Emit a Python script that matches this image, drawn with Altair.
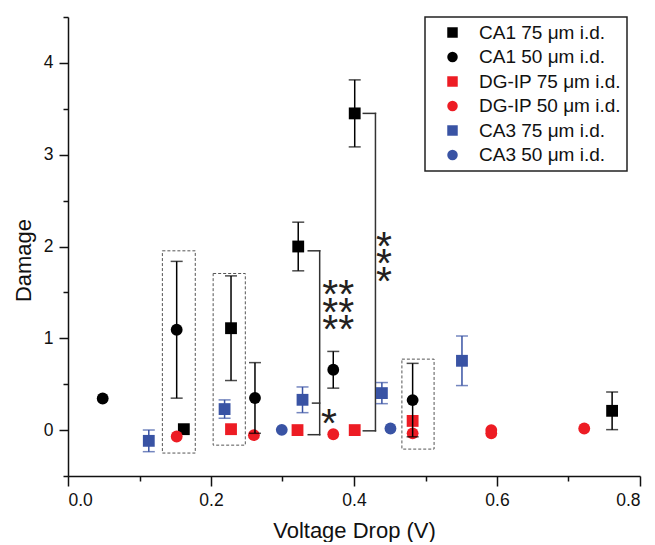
import altair as alt
import pandas as pd

FONT = "Liberation Sans"
BLACK = "#000000"
RED = "#ed1c24"
BLUE = "#3953a4"

series_names = ["CA1 75 μm i.d.", "CA1 50 μm i.d.", "DG-IP 75 μm i.d.",
                "DG-IP 50 μm i.d.", "CA3 75 μm i.d.", "CA3 50 μm i.d."]
series_colors = [BLACK, BLACK, RED, RED, BLUE, BLUE]
series_shapes = ["square", "circle", "square", "circle", "square", "circle"]

# CA1 75 um
ca1_75_x = [0.162, 0.228, 0.322, 0.401, 0.761]
ca1_75_y = [0.01, 1.11, 2.00, 3.45, 0.21]
ca1_75_err = [0.0, 0.57, 0.265, 0.365, 0.205]
# CA1 50 um
ca1_50_x = [0.0485, 0.152, 0.2615, 0.371, 0.482]
ca1_50_y = [0.344, 1.093, 0.35, 0.657, 0.327]
ca1_50_err = [0.0, 0.745, 0.385, 0.2, 0.4]
# DG-IP 75 um
dg_75_x = [0.228, 0.321, 0.401, 0.482]
dg_75_y = [0.01, 0.0, 0.0, 0.10]
dg_75_err = [0.0, 0.0, 0.0, 0.0]
# DG-IP 50 um
dg_50_x = [0.152, 0.26, 0.371, 0.482, 0.592, 0.592, 0.722]
dg_50_y = [-0.07, -0.055, -0.045, -0.035, 0.0, -0.035, 0.017]
dg_50_err = [0.0, 0.0, 0.0, 0.0, 0.0, 0.0, 0.0]
# CA3 75 um
ca3_75_x = [0.113, 0.219, 0.328, 0.439, 0.551]
ca3_75_y = [-0.117, 0.229, 0.33, 0.403, 0.755]
ca3_75_err = [0.118, 0.1, 0.14, 0.115, 0.27]
# CA3 50 um
ca3_50_x = [0.299, 0.451]
ca3_50_y = [0.003, 0.017]
ca3_50_err = [0.0, 0.0]

all_x = [ca1_75_x, ca1_50_x, dg_75_x, dg_50_x, ca3_75_x, ca3_50_x]
all_y = [ca1_75_y, ca1_50_y, dg_75_y, dg_50_y, ca3_75_y, ca3_50_y]
all_e = [ca1_75_err, ca1_50_err, dg_75_err, dg_50_err, ca3_75_err, ca3_50_err]

rows = []
for name, xs, ys, es in zip(series_names, all_x, all_y, all_e):
    for x, y, e in zip(xs, ys, es):
        rows.append({"series": name, "x": x, "y": y, "lo": y - e, "hi": y + e, "e": e})
df = pd.DataFrame(rows)
df_err = df[df["e"] > 0]

# dashed annotation boxes
box_x1 = [0.132, 0.203, 0.467]
box_x2 = [0.178, 0.248, 0.512]
box_y1 = [-0.25, -0.164, -0.207]
box_y2 = [1.953, 1.706, 0.773]
boxes = pd.DataFrame({"x": box_x1, "x2": box_x2, "y": box_y1, "y2": box_y2})

# significance brackets (segments)
seg_x1 = [0.336, 0.352, 0.336, 0.342, 0.413, 0.430, 0.413]
seg_x2 = [0.352, 0.352, 0.352, 0.352, 0.430, 0.430, 0.430]
seg_y1 = [1.953, 1.953, -0.05, 0.294, 3.45, 3.45, -0.008]
seg_y2 = [1.953, -0.05, -0.05, 0.294, 3.45, -0.008, -0.008]
segs = pd.DataFrame({"x": seg_x1, "x2": seg_x2, "y": seg_y1, "y2": seg_y2})

# asterisks (first row position of each stack)
star_x = [0.378, 0.442, 0.365]
star_y = [1.533, 2.062, 0.137]
star_t = ["**\n**\n**", "*\n*\n*", "*"]
stars = pd.DataFrame({"x": star_x, "y": star_y, "t": star_t})

x_ticks = [0.0, 0.1, 0.2, 0.3, 0.4, 0.5, 0.6, 0.7, 0.8]
y_ticks = [-0.5, 0.0, 0.5, 1.0, 1.5, 2.0, 2.5, 3.0, 3.5, 4.0, 4.5]

xscale = alt.Scale(domain=[0, 0.8], nice=False, zero=False)
yscale = alt.Scale(domain=[-0.5, 4.5], nice=False, zero=False)

xaxis = alt.Axis(
    values=x_ticks, title="Voltage Drop (V)", grid=False,
    labelExpr="round(datum.value*10) % 2 == 0 ? format(datum.value, '.1f') : ''",
    tickSize={"condition": {"test": "round(datum.value*10) % 2 == 0", "value": 10}, "value": 5},
    labelPadding=5, titlePadding=12,
)
yaxis = alt.Axis(
    values=y_ticks, title="Damage", grid=False,
    labelExpr="round(datum.value*2) % 2 == 0 ? format(datum.value, 'd') : ''",
    tickSize={"condition": {"test": "round(datum.value*2) % 2 == 0", "value": 9}, "value": 5},
    labelPadding=6, titlePadding=8, titleY=243,
)

X = alt.X("x:Q", scale=xscale, axis=xaxis)
Y = alt.Y("y:Q", scale=yscale, axis=yaxis)

box_layer = alt.Chart(boxes).mark_rect(
    fillOpacity=0, stroke="#555555", strokeWidth=1, strokeDash=[3, 2]
).encode(x="x:Q", x2="x2:Q", y="y:Q", y2="y2:Q")

seg_layer = alt.Chart(segs).mark_rule(
    color="#333333", strokeWidth=1.5, strokeCap="square"
).encode(x="x:Q", x2="x2:Q", y="y:Q", y2="y2:Q")

color_scale = alt.Scale(domain=series_names, range=series_colors)
shape_scale = alt.Scale(domain=series_names, range=series_shapes)

point_layer = alt.Chart(df).mark_point(filled=True, size=140, opacity=1).encode(
    x=X, y=Y,
    color=alt.Color("series:N", scale=color_scale, title=None,
                    legend=alt.Legend(title=None)),
    shape=alt.Shape("series:N", scale=shape_scale, title=None,
                    legend=alt.Legend(title=None)),
)

err_layer = alt.Chart(df_err).mark_rule(strokeWidth=1.5).encode(
    x="x:Q", y="lo:Q", y2="hi:Q",
    color=alt.Color("series:N", scale=color_scale, legend=None),
)
cap_lo = alt.Chart(df_err).mark_tick(orient="horizontal", size=12, thickness=1.5).encode(
    x="x:Q", y="lo:Q", color=alt.Color("series:N", scale=color_scale, legend=None),
)
cap_hi = alt.Chart(df_err).mark_tick(orient="horizontal", size=12, thickness=1.5).encode(
    x="x:Q", y="hi:Q", color=alt.Color("series:N", scale=color_scale, legend=None),
)

star_layer = alt.Chart(stars).mark_text(
    font=FONT, fontSize=41, color="#231f20", baseline="alphabetic", dy=19,
    align="center", lineBreak="\n", lineHeight=17.5
).encode(x="x:Q", y="y:Q", text="t:N")

chart = alt.layer(
    box_layer, seg_layer, point_layer, err_layer, cap_lo, cap_hi, star_layer
).properties(
    width=572, height=459, padding={"left": 4, "top": 8, "right": 5, "bottom": 0}
).configure_view(stroke=None).configure_axis(
    labelFont=FONT, titleFont=FONT, labelFontSize=17.5, titleFontSize=22,
    labelColor="#111111", titleColor="#111111", titleFontWeight="normal",
    domainColor="#111111", tickColor="#111111", domainWidth=1.5, tickWidth=1.5,
).configure_legend(
    orient="none", legendX=357, legendY=0,
    strokeColor="#222222", strokeWidth=1.5, fillColor="white",
    padding=6, rowPadding=4.5, labelFont=FONT, labelFontSize=19, labelColor="#111111",
    symbolSize=110, symbolOffset=12, labelOffset=17, symbolStrokeWidth=0,
)

chart.save("out.html", embed_options={"renderer": "svg", "actions": False})
